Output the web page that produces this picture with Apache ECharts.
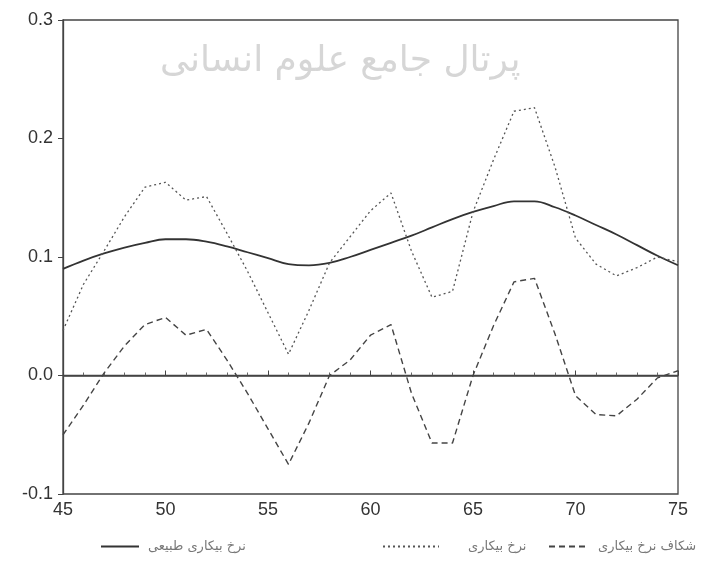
<!DOCTYPE html>
<html>
<head>
<meta charset="utf-8">
<script src="https://cdn.jsdelivr.net/npm/echarts@6/dist/echarts.min.js"></script>
<style>
  html, body { margin: 0; padding: 0; background: #fff; }
  #chart { width: 724px; height: 570px; }
</style>
</head>
<body>
<div id="chart"></div>
<script>
// years on the x axis
var years = [45, 46, 47, 48, 49, 50, 51, 52, 53, 54, 55, 56, 57, 58, 59, 60,
  61, 62, 63, 64, 65, 66, 67, 68, 69, 70, 71, 72, 73, 74, 75]

// نرخ بیکاری طبیعی (solid)
var naturalRate = [0.090, 0.097, 0.103, 0.108, 0.112, 0.115, 0.115, 0.113, 0.109, 0.104,
  0.099, 0.094, 0.093, 0.095, 0.100, 0.106, 0.112, 0.118, 0.125, 0.132,
  0.138, 0.143, 0.147, 0.147, 0.142, 0.135, 0.127, 0.119, 0.110, 0.101, 0.093]

// نرخ بیکاری (dotted)
var unemployment = [0.038, 0.077, 0.105, 0.134, 0.159, 0.163, 0.148, 0.151, 0.120, 0.088,
  0.053, 0.018, 0.055, 0.095, 0.117, 0.139, 0.154, 0.105, 0.066, 0.071,
  0.138, 0.182, 0.223, 0.226, 0.176, 0.116, 0.094, 0.084, 0.091, 0.100, 0.096]

// شکاف نرخ بیکاری (dashed)
var gap = [-0.050, -0.025, 0.002, 0.025, 0.043, 0.049, 0.034, 0.039, 0.013, -0.015,
  -0.045, -0.075, -0.040, 0.000, 0.013, 0.034, 0.043, -0.015, -0.057, -0.057,
  0.000, 0.042, 0.079, 0.082, 0.035, -0.017, -0.033, -0.034, -0.020, -0.002, 0.004]

var yTicks = [-0.1, 0.0, 0.1, 0.2, 0.3]

var names = ['نرخ بیکاری طبیعی', 'نرخ بیکاری', 'شکاف نرخ بیکاری']

function pairs(values) {
  return years.map(function (y, i) { return [y, values[i]] })
}

var myChart = echarts.init(document.getElementById('chart'))

function legendAt(name, left, w, gapW) {
  return {
    data: [name],
    left: left,
    top: 540,
    itemWidth: w,
    itemHeight: 10,
    itemGap: 6,
    padding: 0,
    itemStyle: { opacity: 0 },
    textStyle: { fontFamily: 'DejaVu Sans', fontSize: 13, color: '#777', padding: [0, 0, 0, gapW] },
    selectedMode: false
  }
}

myChart.setOption({
  animation: false,
  backgroundColor: '#fff',
  textStyle: { fontFamily: 'Liberation Sans, Arial, sans-serif' },
  grid: {
    left: 63,
    right: 46,
    top: 20,
    bottom: 76,
    show: true,
    borderColor: '#444',
    borderWidth: 1.3
  },
  legend: [
    legendAt(names[0], 100, 38, 4),
    legendAt(names[1], 382, 56, 24),
    legendAt(names[2], 548, 40, 4)
  ],
  graphic: [
    {
      type: 'text',
      left: 160,
      top: 44,
      silent: true,
      style: {
        text: 'پرتال جامع علوم انسانی',
        font: '36px "DejaVu Sans"',
        fill: '#d6d6d6'
      }
    }
  ],
  xAxis: {
    type: 'value',
    min: 45,
    max: 75,
    interval: 5,
    axisLine: { lineStyle: { color: '#444', width: 1.3 } },
    axisTick: { inside: true, length: 5, lineStyle: { color: '#444' } },
    minorTick: { show: true, splitNumber: 5, length: 3, lineStyle: { color: '#666' } },
    axisLabel: { color: '#333', fontSize: 18, margin: 7 },
    splitLine: { show: false }
  },
  yAxis: {
    type: 'value',
    min: yTicks[0],
    max: yTicks[yTicks.length - 1],
    interval: 0.1,
    axisLine: { show: true, lineStyle: { color: '#444', width: 1.3 } },
    axisTick: { show: true, length: 5, lineStyle: { color: '#444' } },
    axisLabel: {
      color: '#333',
      fontSize: 18,
      margin: 10,
      formatter: function (v) { return v.toFixed(1) }
    },
    splitLine: { show: false }
  },
  series: [
    {
      name: names[0],
      type: 'line',
      data: pairs(naturalRate),
      smooth: 0.4,
      symbol: 'none',
      lineStyle: { color: '#333', width: 1.8, type: 'solid' },
      itemStyle: { color: '#333' },
      markLine: {
        silent: true,
        symbol: 'none',
        label: { show: false },
        lineStyle: { color: '#444', width: 1.6, type: 'solid' },
        data: [{ yAxis: 0 }]
      }
    },
    {
      name: names[1],
      type: 'line',
      data: pairs(unemployment),
      symbol: 'none',
      lineStyle: { color: '#555', width: 1.3, type: [2, 3] },
      itemStyle: { color: '#555' }
    },
    {
      name: names[2],
      type: 'line',
      data: pairs(gap),
      symbol: 'none',
      lineStyle: { color: '#444', width: 1.4, type: [6, 4] },
      itemStyle: { color: '#444' }
    }
  ]
})
</script>
</body>
</html>
